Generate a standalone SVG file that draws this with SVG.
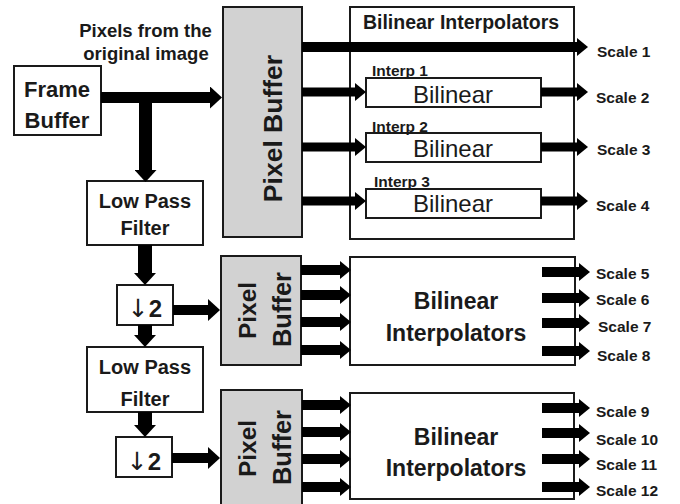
<svg xmlns="http://www.w3.org/2000/svg" width="680" height="504" viewBox="0 0 680 504">
<style>
.box{fill:#fff;stroke:#1a1a1a;stroke-width:2}
.buf{fill:#d2d2d2;stroke:#1a1a1a;stroke-width:2}
text{font-family:"Liberation Sans",Arial,sans-serif;fill:#1a1a1a}
.b{font-weight:bold}
.c{text-anchor:middle}
.sc{font-size:15.5px;font-weight:bold}
.ln{stroke:#000;fill:none}
.arr{font-family:"DejaVu Sans",sans-serif;font-weight:normal}
</style>
<defs>
<marker id="ah" markerUnits="userSpaceOnUse" markerWidth="11" markerHeight="18" viewBox="0 0 11 18" refX="0" refY="9" orient="auto"><path d="M0,0 L11,9 L0,18 z" fill="#000"/></marker>
<marker id="ahL" markerUnits="userSpaceOnUse" markerWidth="12" markerHeight="22" viewBox="0 0 12 22" refX="0" refY="11" orient="auto"><path d="M0,0 L12,11 L0,22 z" fill="#000"/></marker>
</defs>
<rect width="680" height="504" fill="#fff"/>

<g id="label-pixels">
<text class="b c" x="145.5" y="37" font-size="18.5">Pixels from the</text>
<text class="b c" x="146" y="60" font-size="18.5">original image</text>
</g>

<g id="frame-buffer">
<rect class="box" x="14" y="66" width="87" height="69"/>
<text class="b c" x="57" y="97" font-size="22">Frame</text>
<text class="b c" x="57" y="128" font-size="22">Buffer</text>
</g>

<g id="lpf1">
<rect class="box" x="87" y="181" width="116" height="64"/>
<text class="b c" x="145" y="208" font-size="20">Low Pass</text>
<text class="b c" x="145" y="235" font-size="20">Filter</text>
</g>

<g id="down1">
<rect class="box" x="117" y="285" width="56" height="40"/>
<text class="b c" x="145" y="317" font-size="24"><tspan class="arr" font-size="25">↓</tspan>2</text>
</g>

<g id="lpf2">
<rect class="box" x="87" y="347" width="116" height="65"/>
<text class="b c" x="145" y="374" font-size="20">Low Pass</text>
<text class="b c" x="145" y="406" font-size="20">Filter</text>
</g>

<g id="down2">
<rect class="box" x="116" y="437" width="56" height="40"/>
<text class="b c" x="144" y="470" font-size="24"><tspan class="arr" font-size="25">↓</tspan>2</text>
</g>

<g id="pixel-buffer-1">
<rect class="buf" x="223" y="7" width="79" height="230"/>
<text class="b c" transform="translate(282 128.5) rotate(-90)" font-size="26.5">Pixel Buffer</text>
</g>

<g id="pixel-buffer-2">
<rect class="buf" x="221" y="256" width="80" height="109"/>
<text class="b c" transform="translate(256 310.5) rotate(-90)" font-size="24.5">Pixel</text>
<text class="b c" transform="translate(291 309.5) rotate(-90)" font-size="25.5">Buffer</text>
</g>

<g id="pixel-buffer-3">
<rect class="buf" x="221" y="390" width="81" height="120"/>
<text class="b c" transform="translate(256 448.5) rotate(-90)" font-size="24.5">Pixel</text>
<text class="b c" transform="translate(291 447.5) rotate(-90)" font-size="25.5">Buffer</text>
</g>

<g id="bilinear-group-1">
<rect class="box" x="350" y="7" width="224" height="232"/>
<text class="b c" x="461" y="29" font-size="19.5">Bilinear Interpolators</text>
</g>

<g id="interp1">
<rect class="box" x="366" y="78" width="175" height="29"/>
<text x="372" y="76" font-size="15.5" class="b">Interp 1</text>
<text class="c" x="453" y="103" font-size="24">Bilinear</text>
</g>
<g id="interp2">
<rect class="box" x="366" y="133" width="175" height="29"/>
<text x="372" y="132" font-size="15.5" class="b">Interp 2</text>
<text class="c" x="453" y="157" font-size="24">Bilinear</text>
</g>
<g id="interp3">
<rect class="box" x="366" y="189" width="175" height="29"/>
<text x="374" y="187" font-size="15.5" class="b">Interp 3</text>
<text class="c" x="453" y="212" font-size="24">Bilinear</text>
</g>

<g id="bilinear-group-2">
<rect class="box" x="350" y="257" width="225" height="108"/>
<text class="b c" x="456" y="309" font-size="23">Bilinear</text>
<text class="b c" x="456" y="341" font-size="23">Interpolators</text>
</g>

<g id="bilinear-group-3">
<rect class="box" x="350" y="393" width="224" height="106"/>
<text class="b c" x="456" y="445" font-size="23">Bilinear</text>
<text class="b c" x="456" y="476" font-size="23">Interpolators</text>
</g>

<g id="connectors">
<line class="ln" x1="101" y1="97.5" x2="210" y2="97.5" stroke-width="11" marker-end="url(#ahL)"/>
<line class="ln" x1="145.5" y1="92" x2="145.5" y2="170" stroke-width="13" marker-end="url(#ahL)"/>
<line class="ln" x1="145" y1="245" x2="145" y2="273" stroke-width="14" marker-end="url(#ahL)"/>
<line class="ln" x1="173" y1="310" x2="208" y2="310" stroke-width="10" marker-end="url(#ahL)"/>
<line class="ln" x1="145" y1="325" x2="145" y2="335" stroke-width="14" marker-end="url(#ahL)"/>
<line class="ln" x1="145" y1="412" x2="145" y2="425" stroke-width="14" marker-end="url(#ahL)"/>
<line class="ln" x1="172" y1="458" x2="208" y2="458" stroke-width="10" marker-end="url(#ahL)"/>

<line class="ln" x1="302" y1="47" x2="577" y2="47" stroke-width="10" marker-end="url(#ah)"/>
<line class="ln" x1="302" y1="92" x2="355" y2="92" stroke-width="9" marker-end="url(#ah)"/>
<line class="ln" x1="302" y1="147" x2="355" y2="147" stroke-width="9" marker-end="url(#ah)"/>
<line class="ln" x1="302" y1="201" x2="355" y2="201" stroke-width="9" marker-end="url(#ah)"/>
<line class="ln" x1="541" y1="92" x2="577" y2="92" stroke-width="9" marker-end="url(#ah)"/>
<line class="ln" x1="541" y1="147" x2="577" y2="147" stroke-width="9" marker-end="url(#ah)"/>
<line class="ln" x1="541" y1="201" x2="577" y2="201" stroke-width="9" marker-end="url(#ah)"/>

<line class="ln" x1="301" y1="270" x2="340" y2="270" stroke-width="10" marker-end="url(#ah)"/>
<line class="ln" x1="301" y1="295" x2="340" y2="295" stroke-width="10" marker-end="url(#ah)"/>
<line class="ln" x1="301" y1="322" x2="340" y2="322" stroke-width="10" marker-end="url(#ah)"/>
<line class="ln" x1="301" y1="350" x2="340" y2="350" stroke-width="10" marker-end="url(#ah)"/>
<line class="ln" x1="542" y1="272" x2="579" y2="272" stroke-width="10" marker-end="url(#ah)"/>
<line class="ln" x1="542" y1="298" x2="579" y2="298" stroke-width="10" marker-end="url(#ah)"/>
<line class="ln" x1="542" y1="323" x2="579" y2="323" stroke-width="10" marker-end="url(#ah)"/>
<line class="ln" x1="542" y1="351" x2="579" y2="351" stroke-width="10" marker-end="url(#ah)"/>

<line class="ln" x1="302" y1="405" x2="340" y2="405" stroke-width="10" marker-end="url(#ah)"/>
<line class="ln" x1="302" y1="432" x2="340" y2="432" stroke-width="10" marker-end="url(#ah)"/>
<line class="ln" x1="302" y1="459" x2="340" y2="459" stroke-width="10" marker-end="url(#ah)"/>
<line class="ln" x1="302" y1="487" x2="340" y2="487" stroke-width="10" marker-end="url(#ah)"/>
<line class="ln" x1="542" y1="408" x2="579" y2="408" stroke-width="10" marker-end="url(#ah)"/>
<line class="ln" x1="542" y1="433" x2="579" y2="433" stroke-width="10" marker-end="url(#ah)"/>
<line class="ln" x1="542" y1="459" x2="579" y2="459" stroke-width="10" marker-end="url(#ah)"/>
<line class="ln" x1="542" y1="487" x2="579" y2="487" stroke-width="10" marker-end="url(#ah)"/>
</g>

<g id="scale-labels">
<text class="sc" x="597" y="57">Scale 1</text>
<text class="sc" x="596" y="103">Scale 2</text>
<text class="sc" x="597" y="155">Scale 3</text>
<text class="sc" x="596" y="211">Scale 4</text>
<text class="sc" x="596" y="279">Scale 5</text>
<text class="sc" x="596" y="305">Scale 6</text>
<text class="sc" x="598" y="332">Scale 7</text>
<text class="sc" x="597" y="361">Scale 8</text>
<text class="sc" x="596" y="417">Scale 9</text>
<text class="sc" x="596" y="445">Scale 10</text>
<text class="sc" x="596" y="470">Scale 11</text>
<text class="sc" x="596" y="496">Scale 12</text>
</g>
</svg>
